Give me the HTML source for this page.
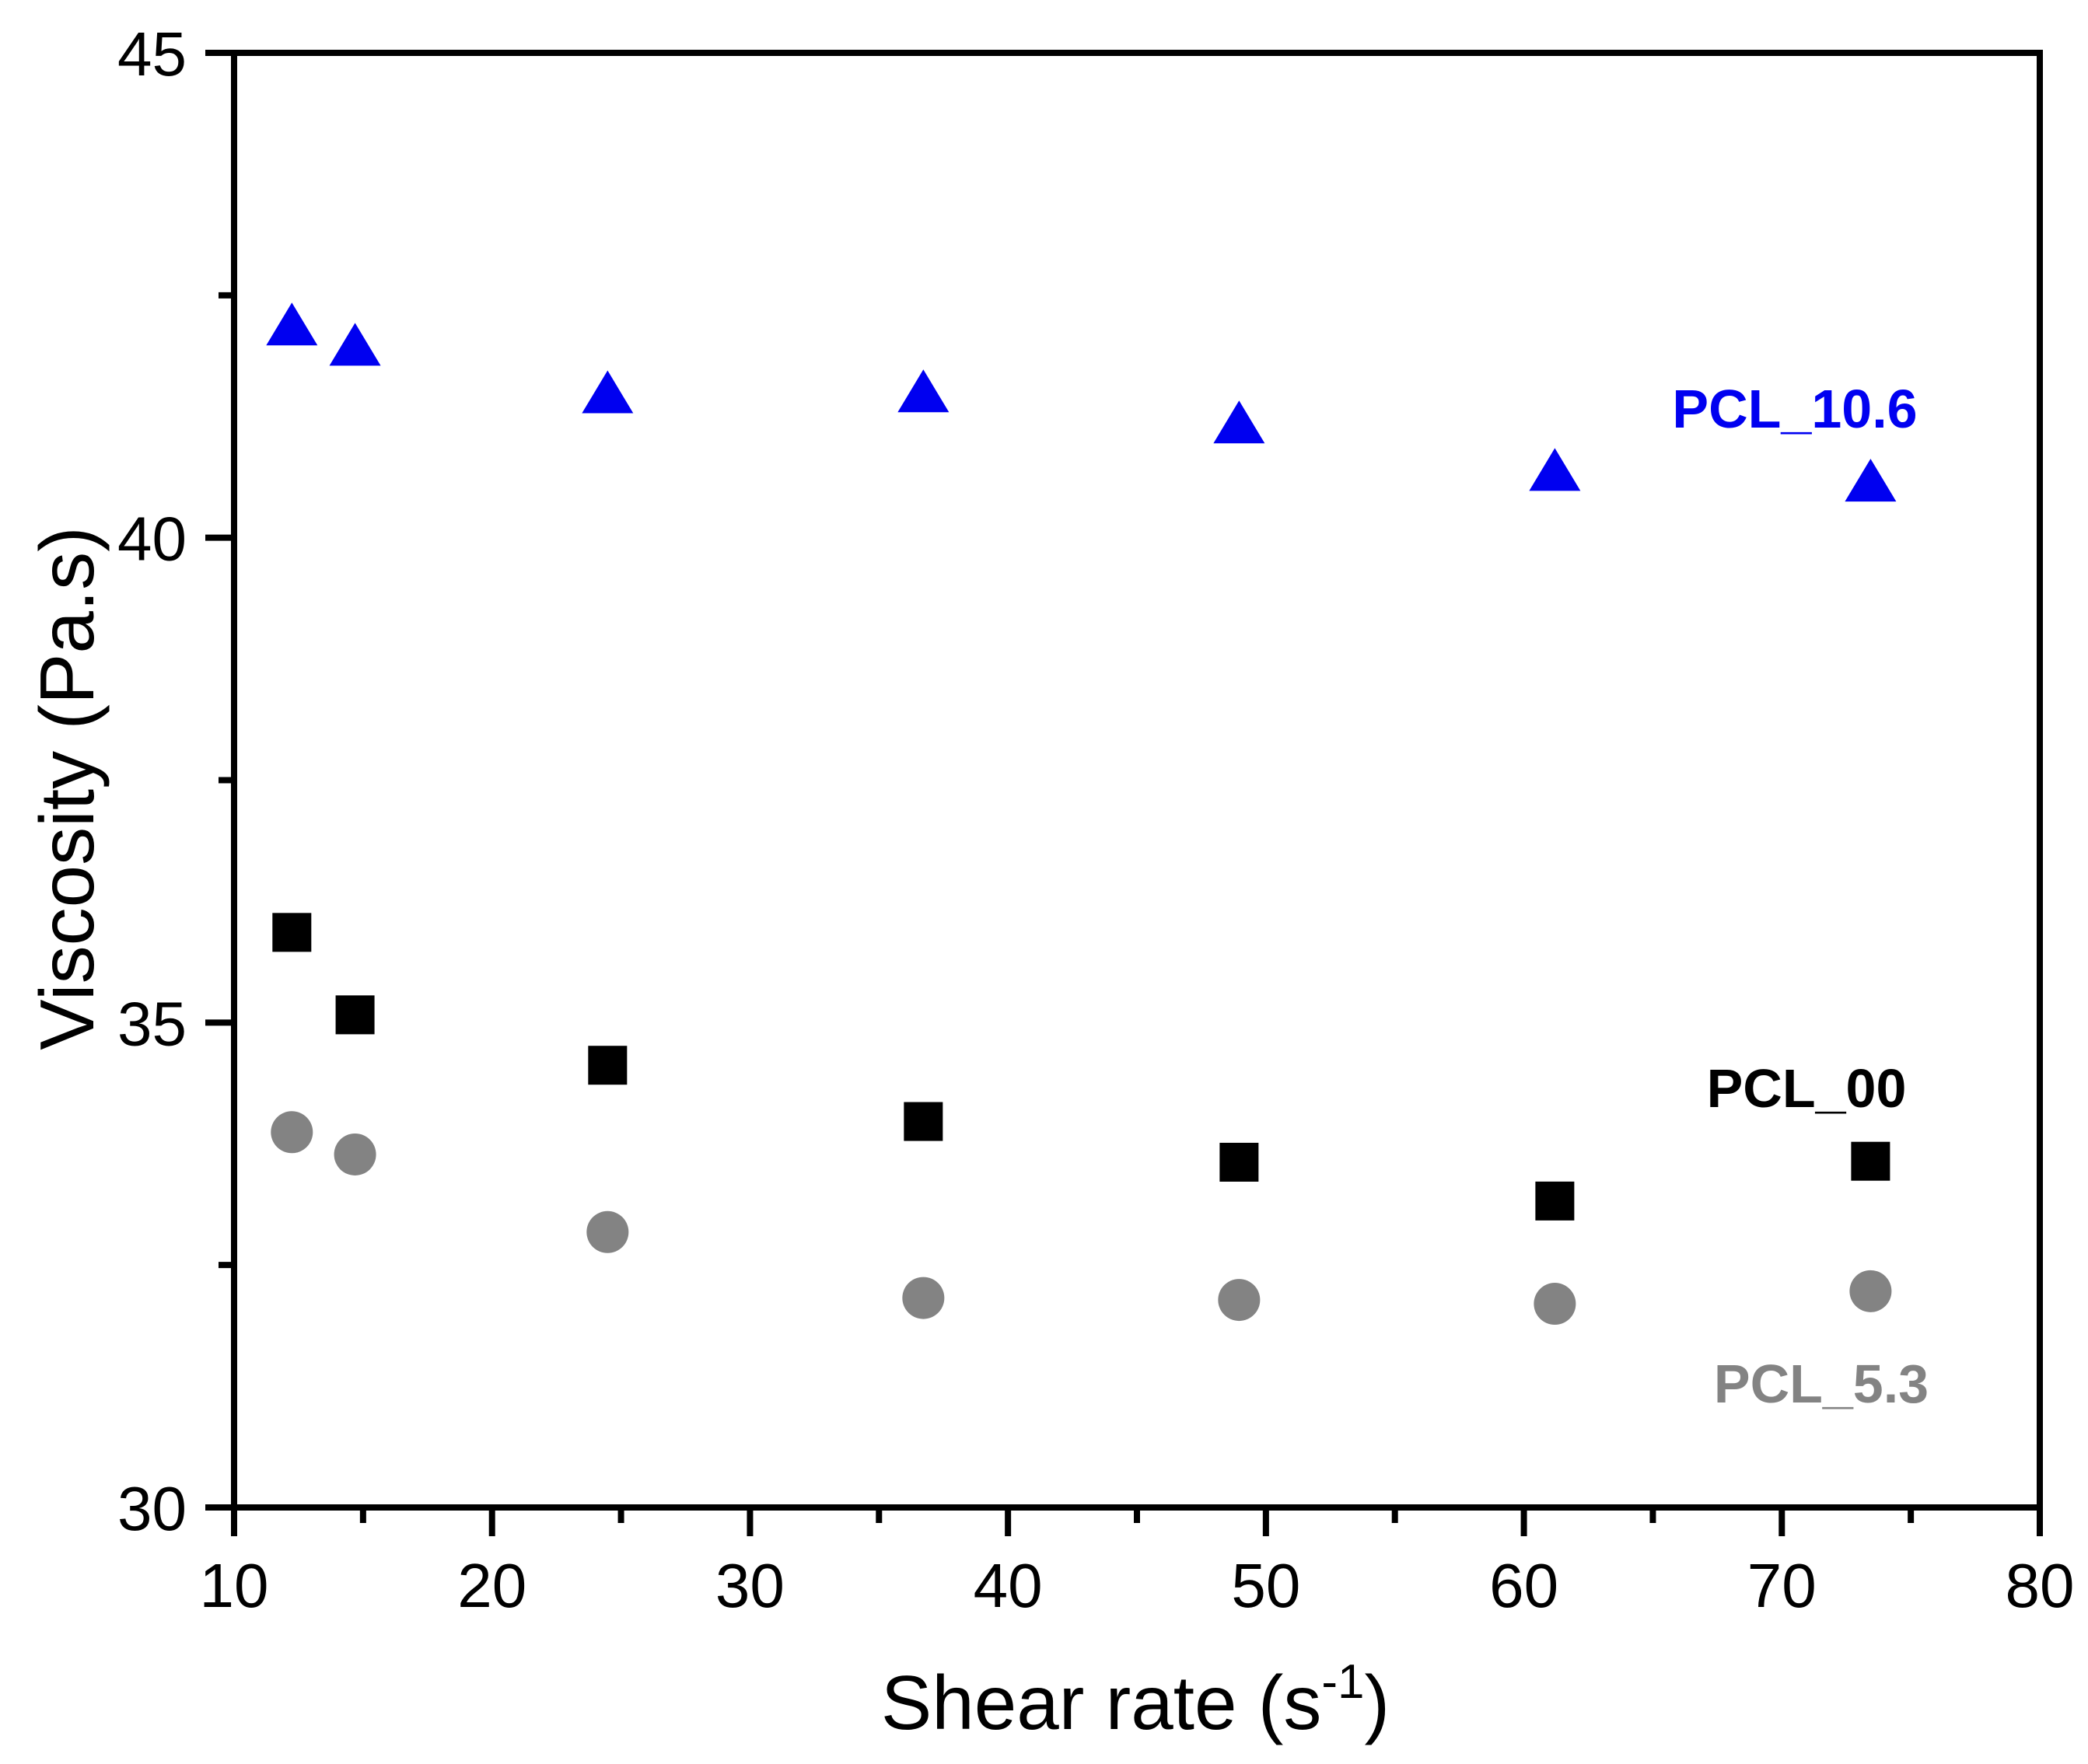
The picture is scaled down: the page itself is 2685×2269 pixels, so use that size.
<!DOCTYPE html>
<html><head><meta charset="utf-8"><style>
html,body{margin:0;padding:0;background:#fff}
svg{display:block}
text{font-family:"Liberation Sans",Arial,sans-serif}
</style></head><body>
<svg id="chart" width="2685" height="2269" viewBox="0 0 2685 2269" xmlns="http://www.w3.org/2000/svg"></svg>
<script>
const shearRates=[12.24,14.69,24.48,36.72,48.96,61.2,73.44];
const pcl106=[42.16,41.95,41.46,41.47,41.15,40.66,40.55];
const pcl00=[35.93,35.08,34.56,33.98,33.56,33.16,33.57];
const pcl53=[33.87,33.64,32.84,32.16,32.14,32.10,32.23];
const xTicks=[10,20,30,40,50,60,70,80];
const yTicks=[30,35,40,45];
const xMinor=[15,25,35,45,55,65,75];
const yMinor=[32.5,37.5,42.5];

const NS="http://www.w3.org/2000/svg";
const svg=document.getElementById('chart');
const L=301,R=2623,T=68,B=1939;
const xs=v=>L+(v-10)/70*(R-L);
const ys=v=>B-(v-30)/15*(B-T);
function el(tag,attrs,parent){const e=document.createElementNS(NS,tag);for(const k in attrs)e.setAttribute(k,attrs[k]);(parent||svg).appendChild(e);return e;}

const frame=el('rect',{x:L,y:T,width:R-L,height:B-T,fill:'none',stroke:'#000','stroke-width':8});



xTicks.forEach(v=>{
  const t=el('line',{x1:xs(v),x2:xs(v),y1:B,y2:B+37,stroke:'#000','stroke-width':8});
  
  
  const lb=el('text',{x:xs(v),y:B+128,'font-size':80,'text-anchor':'middle',fill:'#000'});
  lb.textContent=v;
  
  
});
xMinor.forEach(v=>{
  const t=el('line',{x1:xs(v),x2:xs(v),y1:B,y2:B+20,stroke:'#000','stroke-width':8});
  
  
});
yTicks.forEach(v=>{
  const t=el('line',{x1:L-37,x2:L,y1:ys(v),y2:ys(v),stroke:'#000','stroke-width':8});
  
  
  const lb=el('text',{x:240,y:ys(v)+29,'font-size':80,'text-anchor':'end',fill:'#000'});
  lb.textContent=v;
  
  
});
yMinor.forEach(v=>{
  const t=el('line',{x1:L-20,x2:L,y1:ys(v),y2:ys(v),stroke:'#000','stroke-width':8});
  
  
});

shearRates.forEach((x,i)=>{
  const cx=xs(x),cy=ys(pcl106[i]);
  const tri=el('polygon',{points:`${cx-33},${cy+22} ${cx+33},${cy+22} ${cx},${cy-33}`,fill:'#0000f0'});
  
  
  const sq=el('rect',{x:xs(x)-25,y:ys(pcl00[i])-25,width:50,height:50,fill:'#000'});
  
  
  const c=el('circle',{cx:xs(x),cy:ys(pcl53[i]),r:27,fill:'#838383'});
  
  
});

const l1=el('text',{x:2308,y:550,'font-size':70,'font-weight':'bold','text-anchor':'middle',fill:'#0000f0'});
l1.textContent='PCL_10.6';


const l2=el('text',{x:2323,y:1424,'font-size':70,'font-weight':'bold','text-anchor':'middle',fill:'#000'});
l2.textContent='PCL_00';


const l3=el('text',{x:2342,y:1804,'font-size':70,'font-weight':'bold','text-anchor':'middle',fill:'#838383'});
l3.textContent='PCL_5.3';



const yt=el('text',{x:0,y:0,'font-size':98,'text-anchor':'middle',fill:'#000',transform:'translate(120,1014) rotate(-90)'});
yt.textContent='Viscosity (Pa.s)';



const xt=el('text',{x:1460,y:2224,'font-size':98,'text-anchor':'middle',fill:'#000'});


xt.appendChild(document.createTextNode('Shear rate (s'));
const sup=el('tspan',{dy:-40,'font-size':62},xt);
sup.textContent='-1';
const cl=el('tspan',{dy:40},xt);
cl.textContent=')';
</script>
</body></html>
